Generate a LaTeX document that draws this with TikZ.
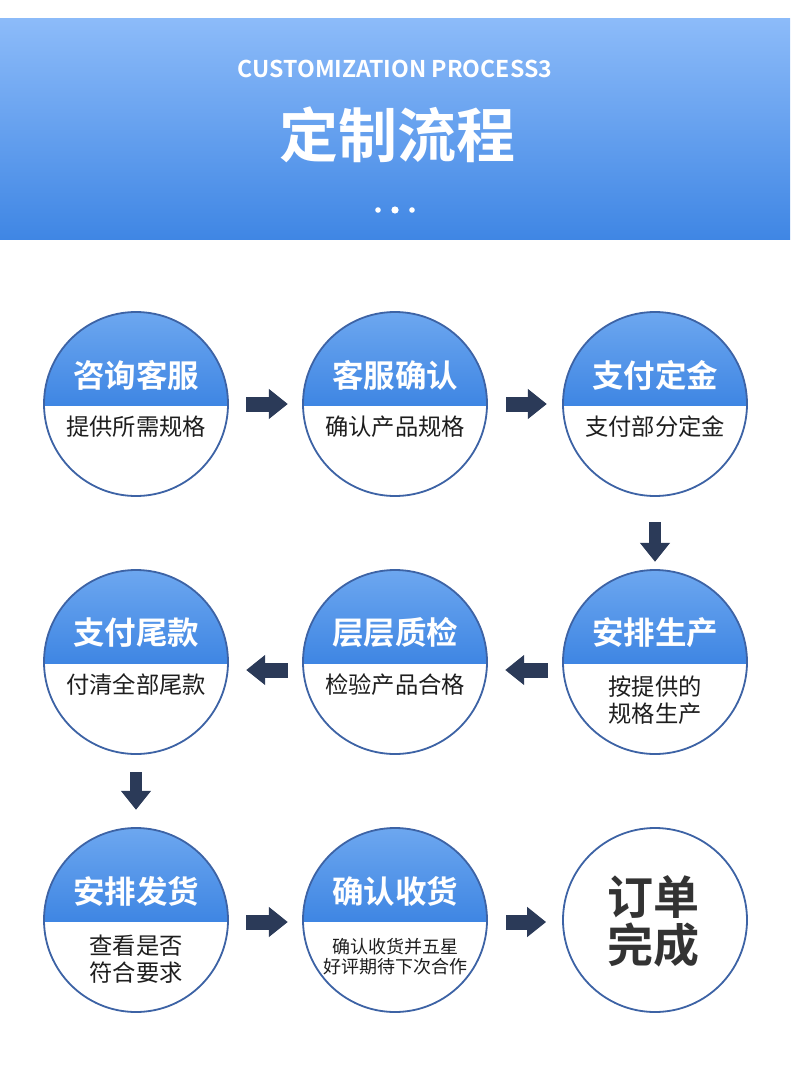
\documentclass[tikz,border=0pt]{standalone}
\usepackage{fontspec}
\setmainfont{Noto Sans CJK SC}
\newfontfamily\cjkb{Noto Sans CJK SC Bold}
\usetikzlibrary{arrows.meta,calc}
\definecolor{hdtop}{HTML}{8CBBF9}
\definecolor{hdbot}{HTML}{3F86E4}
\definecolor{captop}{HTML}{6EA8F0}
\definecolor{capbot}{HTML}{3F86E3}
\definecolor{ring}{HTML}{3D63A5}
\definecolor{navy}{HTML}{2B3A58}
\definecolor{txt}{HTML}{1E1E1E}
\tikzset{
  stepcirc/.style={circle,minimum size=184pt,inner sep=0pt},
  captitle/.style={font=\cjkb\fontsize{31.5}{31.5}\selectfont,text=white},
  capsub/.style={font=\fontsize{23.3}{27}\selectfont,text=txt,align=center},
  flowarrow/.style={navy,line width=15pt,line cap=butt,-{Triangle[length=19pt,width=29pt]}},
  downarrow/.style={navy,line width=12pt,line cap=butt,-{Triangle[length=19pt,width=29pt]}}
}
\newcommand{\stepcircle}[6]{%
  % #1 name, #2 x, #3 y, #4 title, #5 sub, #6 sub offset
  \node[stepcirc] (#1) at (#2,#3) {};
  \begin{scope}
    \clip (#2,#3) circle (92);
    \shade[top color=captop,bottom color=capbot] (#2-95,#3-95) rectangle (#2+95,#3+1);
  \end{scope}
  \draw[ring,line width=1.8pt] (#2,#3) circle (92);
  \node[captitle] (#1t) at (#2,#3-29) {#4};
  \node[capsub] (#1s) at (#2,#3+#6) {#5};
}
\begin{document}
\begin{tikzpicture}[x=1pt,y=-1pt]
\useasboundingbox (0,0) rectangle (790,1067);
\fill[white] (0,0) rectangle (790,1067);
% header
\shade[top color=hdtop,bottom color=hdbot] (0,19) rectangle (790,240);
\node[text=white,font=\cjkb\fontsize{24}{24}\selectfont,inner sep=0pt] (en) at (395,69) {\resizebox{314pt}{!}{CUSTOMIZATION PROCESS3}};
\node[text=white,font=\cjkb\fontsize{59}{59}\selectfont,inner sep=0pt] (title) at (397,135) {定制流程};
\fill[white] (378,210) circle (2.8);
\fill[white] (395,210) circle (3.6);
\fill[white] (412,210) circle (2.8);
% circles
\stepcircle{c1}{136}{404}{咨询客服}{提供所需规格}{23}
\stepcircle{c2}{395}{404}{客服确认}{确认产品规格}{23}
\stepcircle{c3}{655}{404}{支付定金}{支付部分定金}{23}
\stepcircle{c4}{136}{662}{支付尾款}{付清全部尾款}{23}
\stepcircle{c5}{395}{662}{层层质检}{检验产品合格}{23}
\stepcircle{c6}{655}{662}{安排生产}{按提供的\\规格生产}{38}
\stepcircle{c7}{136}{920}{安排发货}{查看是否\\符合要求}{39}
\begin{scope}
  \node[stepcirc] (c8) at (395,920) {};
  \clip (395,920) circle (92);
  \shade[top color=captop,bottom color=capbot] (300,825) rectangle (490,921);
\end{scope}
\draw[ring,line width=1.8pt] (395,920) circle (92);
\node[captitle] (c8t) at (395,891) {确认收货};
\node[font=\fontsize{18}{20}\selectfont,text=txt,align=center] (c8s) at (395,957) {确认收货并五星\\好评期待下次合作};
\node[stepcirc,draw=ring,line width=1.8pt] (c9) at (655,920) {};
\node[font=\cjkb\fontsize{46}{48}\selectfont,text=black!80,align=center] (c9t) at (653,921) {订单\\完成};
% arrows
\draw[flowarrow] ($(c1.east)+(18,0)$) -- ($(c2.west)+(-15,0)$);
\draw[flowarrow] ($(c2.east)+(19,0)$) -- ($(c3.west)+(-16,0)$);
\draw[downarrow] ($(c3.south)+(0,26)$) -- ($(c6.north)+(0,-8)$);
\draw[flowarrow] ($(c6.west)+(-15,8)$) -- ($(c5.east)+(18,8)$);
\draw[flowarrow] ($(c5.west)+(-15,8)$) -- ($(c4.east)+(18,8)$);
\draw[downarrow] ($(c4.south)+(0,18)$) -- ($(c7.north)+(0,-18)$);
\draw[flowarrow] ($(c7.east)+(18,2)$) -- ($(c8.west)+(-15,2)$);
\draw[flowarrow] ($(c8.east)+(19,2)$) -- ($(c9.west)+(-16,2)$);
\end{tikzpicture}
\end{document}
